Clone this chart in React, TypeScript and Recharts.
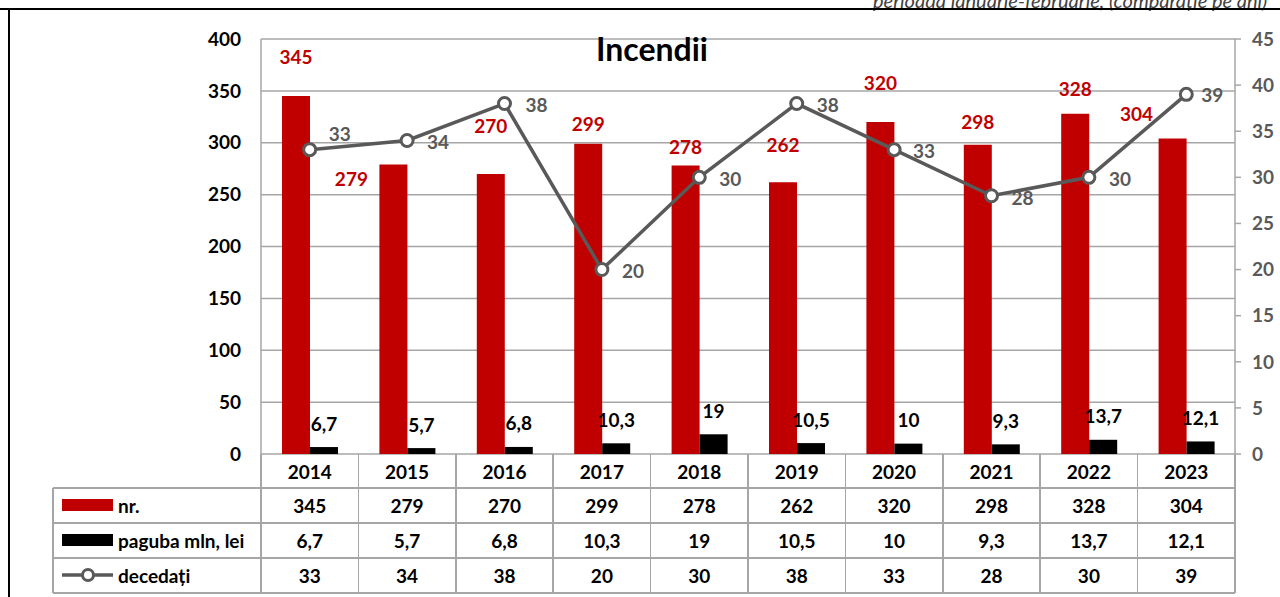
import React from "react";
import { ComposedChart, Bar, Line, XAxis, YAxis, CartesianGrid, LabelList } from "recharts";

const years = ["2014", "2015", "2016", "2017", "2018", "2019", "2020", "2021", "2022", "2023"];
const nr = [345, 279, 270, 299, 278, 262, 320, 298, 328, 304];
const paguba = [6.7, 5.7, 6.8, 10.3, 19, 10.5, 10, 9.3, 13.7, 12.1];
const decedati = [33, 34, 38, 20, 30, 38, 33, 28, 30, 39];
const leftTicks = [0, 50, 100, 150, 200, 250, 300, 350, 400];
const rightTicks = [0, 5, 10, 15, 20, 25, 30, 35, 40, 45];

// label nudges, as they were dragged around in the original
const nrLabelShift = [[0, -40], [-42, 14], [0, -48], [0, -20], [0, -19], [0, -38], [0, -40], [0, -23], [0, -25], [-36, -25]];
const decLabelShift = [[30, -16], [31, 1], [32, 1], [31, 1], [31, 1], [31, 1], [30, 1], [31, 2], [31, 1], [26, 0]];

const data = years.map((y, i) => ({ year: y, nr: nr[i], paguba: paguba[i], decedati: decedati[i] }));

const W = 1280;
const H = 597;
const PL = 261;
const PR = 1235;
const PT = 39;
const PB = 454;
const colW = (PR - PL) / years.length;
const FONT = "Lato, 'Open Sans', sans-serif";
const RED = "#C00000";
const GRAY = "#595959";
const GRID = "#A6A6A6";

const fmt = (v: number) => String(v).replace(".", ",");

function pos(props: any) {
  const vb = props.viewBox || {};
  return {
    x: props.x ?? vb.x,
    y: props.y ?? vb.y,
    width: props.width ?? vb.width ?? 0,
    index: props.index ?? 0,
  };
}

function NrLabel(props: any) {
  const { x, y, width, index } = pos(props);
  const [dx, dy] = nrLabelShift[index] || [0, -14];
  return (
    <text x={x + width / 2 + dx} y={y + dy} textAnchor="middle" dominantBaseline="central"
      fill={RED} fontSize={19} fontWeight={700} fontFamily={FONT}>
      {props.value}
    </text>
  );
}

function DecLabel(props: any) {
  const { x, y, index } = pos(props);
  const [dx, dy] = decLabelShift[index] || [31, 1];
  return (
    <text x={x + dx} y={y + dy} textAnchor="middle" dominantBaseline="central"
      fill={GRAY} fontSize={19} fontWeight={700} fontFamily={FONT}>
      {props.value}
    </text>
  );
}

function PagubaLabel(props: any) {
  const { x, y, width } = pos(props);
  return (
    <text x={x + width / 2} y={y - 24} textAnchor="middle" dominantBaseline="central"
      fill="#000" fontSize={19} fontWeight={700} fontFamily={FONT}>
      {fmt(props.value)}
    </text>
  );
}

const cellText: React.CSSProperties = {
  fontFamily: FONT,
  fontWeight: 700,
  fontSize: 19,
  color: "#000",
};

function TableRow({ top, height, values, label, keyEl }: any) {
  return (
    <>
      <div style={{ position: "absolute", left: 53, top, width: PL - 53, height, display: "flex", alignItems: "center" }}>
        <div style={{ width: 65, height, position: "relative", flexShrink: 0 }}>{keyEl}</div>
        <span style={cellText}>{label}</span>
      </div>
      {values.map((v: string, i: number) => (
        <div key={i} style={{
          position: "absolute", left: PL + i * colW, top, width: colW, height,
          display: "flex", alignItems: "center", justifyContent: "center", ...cellText,
        }}>{v}</div>
      ))}
    </>
  );
}

export default function App() {
  const rows = [PB, 488, 523, 558, 593];
  return (
    <div style={{ position: "absolute", left: 0, top: 0, width: W, height: H, background: "#fff", overflow: "hidden" }}>
      <div style={{
        position: "absolute", left: 873, top: -12, whiteSpace: "nowrap", fontFamily: FONT,
        fontStyle: "italic", fontSize: 20, color: "#404040",
      }}>perioada ianuarie-februarie, (comparație pe ani)</div>
      <div style={{ position: "absolute", left: 0, top: 8, width: W, height: 2, background: "#000" }} />
      <div style={{ position: "absolute", left: 8, top: 9, width: 1.5, height: H, background: "#000" }} />

      <div style={{ position: "absolute", left: 0, top: 0 }}>
        <ComposedChart width={W} height={H} data={data} barGap={0} barSize={28}
          margin={{ top: PT, right: W - PR - 44, bottom: H - PB, left: PL - 60 }}>
          <CartesianGrid horizontal vertical={false} stroke={GRID} strokeWidth={1.5} yAxisId="left" />
          <XAxis dataKey="year" hide />
          <YAxis yAxisId="left" orientation="left" width={60} domain={[0, 400]} ticks={leftTicks}
            interval={0} axisLine={{ stroke: GRID, strokeWidth: 1.5 }} tickLine={false} tickSize={6} tickMargin={14}
            tick={{ fill: "#000", fontSize: 19, fontWeight: 700, fontFamily: FONT }} />
          <YAxis yAxisId="right" orientation="right" width={44} domain={[0, 45]} ticks={rightTicks}
            interval={0} axisLine={{ stroke: GRID, strokeWidth: 1.5 }} tickLine={{ stroke: GRID, strokeWidth: 1.5 }}
            tickSize={6} tickMargin={11}
            tick={{ fill: GRAY, fontSize: 19, fontWeight: 700, fontFamily: FONT }} />
          <Bar yAxisId="left" dataKey="nr" fill={RED} isAnimationActive={false}>
            <LabelList dataKey="nr" content={<NrLabel />} />
          </Bar>
          <Bar yAxisId="left" dataKey="paguba" fill="#000" isAnimationActive={false}>
            <LabelList dataKey="paguba" content={<PagubaLabel />} />
          </Bar>
          <Line yAxisId="right" dataKey="decedati" stroke={GRAY} strokeWidth={3.5} isAnimationActive={false}
            dot={{ r: 6, fill: "#fff", stroke: GRAY, strokeWidth: 3 }}>
            <LabelList dataKey="decedati" content={<DecLabel />} />
          </Line>
        </ComposedChart>
      </div>

      <div style={{
        position: "absolute", left: 552, top: 29, width: 200, textAlign: "center",
        fontFamily: FONT, fontWeight: 700, fontSize: 32, color: "#000",
      }}>Incendii</div>

      {/* data table */}
      {rows.slice(1).map((y) => (
        <div key={y} style={{ position: "absolute", left: 53, top: y - 0.75, width: PR - 53, height: 1.5, background: GRID }} />
      ))}
      <div style={{ position: "absolute", left: 52, top: 488, width: 1.5, height: 593 - 488, background: GRID }} />
      {Array.from({ length: years.length + 1 }).map((_, i) => (
        <div key={i} style={{ position: "absolute", left: PL + i * colW - 0.75, top: PB, width: 1.5, height: 593 - PB, background: GRID }} />
      ))}
      <TableRow top={PB} height={34} values={years} label="" keyEl={null} />
      <TableRow top={488} height={35} values={nr.map(String)} label="nr."
        keyEl={<div style={{ position: "absolute", left: 9, top: 11, width: 51, height: 12, background: RED }} />} />
      <TableRow top={523} height={35} values={paguba.map(fmt)} label="paguba mln, lei"
        keyEl={<div style={{ position: "absolute", left: 9, top: 11, width: 51, height: 12, background: "#000" }} />} />
      <TableRow top={558} height={35} values={decedati.map(String)} label="decedați"
        keyEl={
          <svg width={65} height={35} style={{ position: "absolute", left: 0, top: 0 }}>
            <line x1={9} x2={60} y1={17} y2={17} stroke={GRAY} strokeWidth={3.5} />
            <circle cx={35} cy={17} r={5.5} fill="#fff" stroke={GRAY} strokeWidth={3} />
          </svg>
        } />
    </div>
  );
}
